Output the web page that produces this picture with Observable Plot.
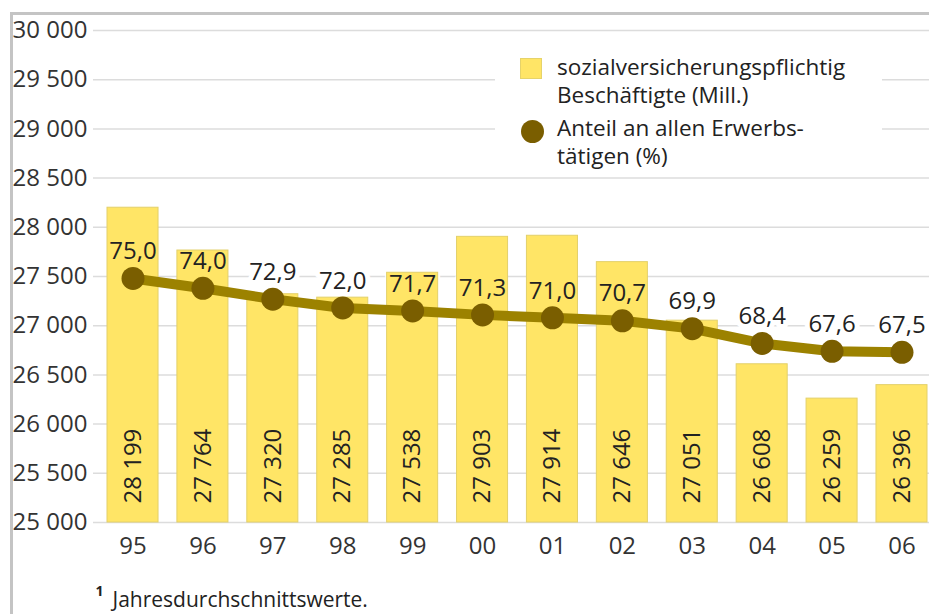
<!DOCTYPE html>
<html>
<head>
<meta charset="utf-8">
<script src="https://cdn.jsdelivr.net/npm/d3@7"></script>
<script src="https://cdn.jsdelivr.net/npm/@observablehq/plot@0.6"></script>
<style>
  body { margin: 0; background: #fff; }
  #wrap { position: relative; width: 929px; height: 614px; font-family: "Open Sans", sans-serif; color: #222; }
  #border { position: absolute; left: 10px; top: 12px; right: 0; bottom: 0; border-top: 3px solid #c4c4c4; border-left: 3px solid #c4c4c4; pointer-events: none; }
  #legend { position: absolute; left: 495px; top: 45px; width: 387px; height: 125px; background: #fff; font-size: 22.5px; line-height: 28px; color: #222; }
  #legend .sw { position: absolute; left: 25px; top: 13px; width: 22px; height: 21px; background: #FFE566; box-sizing: border-box; border: 1px solid #e6d36a; }
  #legend .dt { position: absolute; left: 26px; top: 75px; width: 23px; height: 23px; border-radius: 50%; background: #7A5E00; }
  #legend .t1 { position: absolute; left: 62px; top: 8px; white-space: nowrap; }
  #legend .t2 { position: absolute; left: 62px; top: 69px; white-space: nowrap; }
</style>
</head>
<body>
<div id="wrap">
  <div id="chart"></div>
  <div id="legend">
    <div class="sw"></div>
    <div class="t1">sozialversicherungspflichtig<br>Beschäftigte (Mill.)</div>
    <div class="dt"></div>
    <div class="t2">Anteil an allen Erwerbs-<br>tätigen (%)</div>
  </div>
  <div id="border"></div>
</div>
<script>
const years = ["95", "96", "97", "98", "99", "00", "01", "02", "03", "04", "05", "06"];
const employees = [28199, 27764, 27320, 27285, 27538, 27903, 27914, 27646, 27051, 26608, 26259, 26396];
const employeeLabels = ["28 199", "27 764", "27 320", "27 285", "27 538", "27 903", "27 914", "27 646", "27 051", "26 608", "26 259", "26 396"];
const shares = [75.0, 74.0, 72.9, 72.0, 71.7, 71.3, 71.0, 70.7, 69.9, 68.4, 67.6, 67.5];
const shareLabels = ["75,0", "74,0", "72,9", "72,0", "71,7", "71,3", "71,0", "70,7", "69,9", "68,4", "67,6", "67,5"];
const yTicks = [25000, 25500, 26000, 26500, 27000, 27500, 28000, 28500, 29000, 29500, 30000];
const yTickLabels = ["25 000", "25 500", "26 000", "26 500", "27 000", "27 500", "28 000", "28 500", "29 000", "29 500", "30 000"];
const footnote = "Jahresdurchschnittswerte.";

// secondary (percent) axis mapped onto the left axis
const shareToLeft = p => 19980 + 100 * p;

const data = years.map((year, i) => ({
  year,
  emp: employees[i],
  empLabel: employeeLabels[i],
  share: shareToLeft(shares[i]),
  shareLabel: shareLabels[i]
}));
const tickLabel = new Map(yTicks.map((t, i) => [t, yTickLabels[i]]));

const fs = 24;
const chart = Plot.plot({
  width: 929,
  height: 614,
  marginTop: 30,
  marginBottom: 92,
  marginLeft: 93,
  marginRight: 0,
  style: { fontFamily: "Open Sans, sans-serif", background: "transparent", color: "#222" },
  x: { type: "band", domain: years, paddingInner: 0.27, paddingOuter: 0, insetLeft: 14, insetRight: 2, round: false, label: null },
  y: { domain: [25000, 30000], label: null },
  marks: [
    Plot.ruleY(yTicks, { stroke: "#dcdcdc", strokeWidth: 1.5 }),
    Plot.text(data, { x: "year", y: "share", text: "shareLabel", dy: -27, fontSize: fs, fill: "white", stroke: "white", strokeWidth: 10 }),
    Plot.barY(data, { x: "year", y1: 25000, y2: "emp", fill: "#FFE566", stroke: "#e3d06a", strokeWidth: 1 }),
    Plot.line(data, { x: "year", y: "share", stroke: "#9C8200", strokeWidth: 10 }),
    Plot.dot(data, { x: "year", y: "share", r: 11.5, fill: "#7A5E00" }),
    Plot.text(data, { x: "year", y: "share", text: "shareLabel", dy: -27, fontSize: fs, fill: "#222" }),
    Plot.text(data, { x: "year", y: 25000, text: "empLabel", rotate: -90, textAnchor: "start", dy: -19, fontSize: fs, fill: "#222" }),
    Plot.axisY(yTicks, { tickSize: 0, textAnchor: "start", dx: -72, fontSize: fs, fill: "#333", tickFormat: d => tickLabel.get(d), label: null }),
    Plot.axisX({ tickSize: 0, tickPadding: 14, fontSize: fs, fill: "#333", label: null }),
    Plot.text(["1"], { frameAnchor: "bottom-left", dx: 2, dy: 73, lineAnchor: "bottom", textAnchor: "start", fontSize: 14, fontWeight: "bold", fill: "#222" }),
    Plot.text([footnote], { frameAnchor: "bottom-left", dx: 19, dy: 84, lineAnchor: "bottom", textAnchor: "start", fontSize: 21, fill: "#222" })
  ]
});
document.getElementById("chart").appendChild(chart);
</script>
</body>
</html>
